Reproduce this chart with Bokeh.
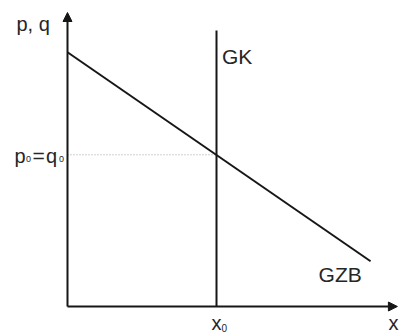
from bokeh.plotting import figure
from bokeh.models import Range1d, Label, Arrow, NormalHead
from bokeh.embed import file_html
from bokeh.resources import INLINE

# ---- data (economic units) ----
x0 = 5.0            # quantity where GK stands
p0 = 5.0            # price = q0 level
gzb_x = [0.0, 10.17]
gzb_y = [8.38, 1.49]
gk_x = [x0, x0]
gk_y = [0.0, 9.10]
x_axis_end = 11.07
y_axis_end = 9.69

FONT = "Liberation Sans"
TXT = "#262626"
LINE = "#161616"

p = figure(width=400, height=334, output_backend="svg", toolbar_location=None,
           x_range=Range1d(-2.248, 11.174), y_range=Range1d(-0.923, 10.086),
           x_axis_location=None, y_axis_location=None,
           min_border=0, outline_line_color=None,
           background_fill_color="white", border_fill_color="white")
p.grid.visible = False

# dotted guide
p.line([0, x0], [p0, p0], line_color="#a0a0a0", line_width=1, line_dash="1 2")

# curves
p.line(gzb_x, gzb_y, line_color=LINE, line_width=2)
p.line(gk_x, gk_y, line_color=LINE, line_width=2)

# axes with arrows
p.add_layout(Arrow(end=NormalHead(size=9, fill_color=LINE, line_color=LINE, line_width=1),
                   x_start=0, y_start=0, x_end=x_axis_end, y_end=0,
                   line_color=LINE, line_width=2))
p.add_layout(Arrow(end=NormalHead(size=9, fill_color=LINE, line_color=LINE, line_width=1),
                   x_start=0, y_start=0, x_end=0, y_end=y_axis_end,
                   line_color=LINE, line_width=2))

def lab(text, x, y, dx, dy, size=20):
    p.add_layout(Label(x=x, y=y, x_offset=dx, y_offset=dy, text=text,
                       text_font=FONT, text_font_size=f"{size}px", text_color=TXT,
                       text_align="left", text_baseline="alphabetic"))

# axis titles
lab("p, q", 0, y_axis_end, -51, -11)
lab("x", x_axis_end, 0, -9, -17)

# curve labels
lab("GK", x0, gk_y[1], 5.5, -26, 21)
lab("GZB", gzb_x[1], gzb_y[1], -52, -13, 21)

# p0 = q0
lab("p", 0, p0, -53, -1)
lab("0", 0, p0, -41.5, -4.5, 9)
lab("=", 0, p0, -35, -1, 21)
lab("q", 0, p0, -21.5, -1)
lab("0", 0, p0, -8.5, -4.5, 9)

# x0
lab("x", x0, 0, -5, -17)
lab("0", x0, 0, 5, -21.5, 10)

open("out.html", "w").write(file_html(p, INLINE))
